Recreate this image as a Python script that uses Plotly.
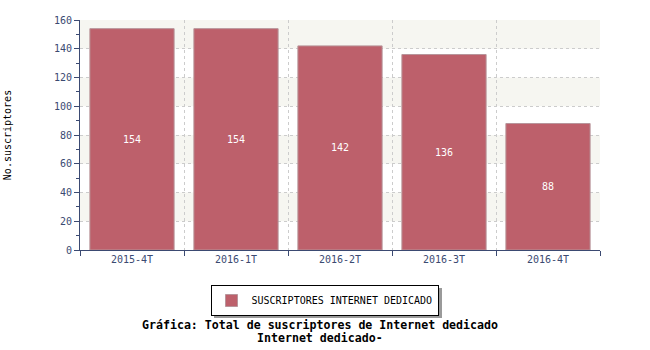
import plotly.graph_objects as go

categories = ["2015-4T", "2016-1T", "2016-2T", "2016-3T", "2016-4T"]
values = [154, 154, 142, 136, 88]
series_name = "SUSCRIPTORES INTERNET DEDICADO"
y_title = "No.suscriptores"
title_lines = ["Gráfica: Total de suscriptores de Internet dedicado", "Internet dedicado-"]

MONO = "DejaVu Sans Mono"
AXIS = "#3b4a72"

fig = go.Figure()
fig.add_trace(go.Bar(
    x=categories, y=values, name=series_name,
    marker=dict(color="#bd606b", line=dict(color="#b8959b", width=1)),
    text=[str(v) for v in values], textposition="inside", insidetextanchor="middle",
    textfont=dict(family=MONO, size=10, color="white"),
    width=0.81, showlegend=True,
))

# alternating background bands
for lo in range(20, 160, 40):
    fig.add_shape(type="rect", xref="paper", yref="y", x0=0, x1=1, y0=lo, y1=lo + 20,
                  fillcolor="#f6f6f1", line=dict(width=0), layer="below")

fig.update_layout(
    width=650, height=350,
    margin=dict(l=80, r=50, t=20, b=100, autoexpand=False),
    paper_bgcolor="white", plot_bgcolor="white",
    font=dict(family=MONO, size=10, color=AXIS),
    legend=dict(x=(324.5 - 80) / 520, xanchor="center", y=(250 - 285) / 230, yanchor="top",
                orientation="h",
                bordercolor="black", borderwidth=1, bgcolor="white",
                font=dict(family=MONO, size=10, color="black"),
                itemwidth=30, tracegroupgap=0),
    xaxis=dict(type="category", tickson="boundaries", showgrid=True, gridcolor="#cccccc",
               griddash="dot", gridwidth=1, showline=True, linecolor=AXIS, linewidth=1,
               ticks="outside", ticklen=5, tickcolor=AXIS, automargin=False,
               tickfont=dict(family=MONO, size=10, color=AXIS)),
    yaxis=dict(range=[0, 160], dtick=20, showgrid=True, gridcolor="#cccccc", griddash="dot",
               showline=True, linecolor=AXIS, linewidth=1, ticks="outside", ticklen=5,
               tickcolor=AXIS, zeroline=False, automargin=False,
               minor=dict(dtick=10, ticks="outside", ticklen=3, tickcolor=AXIS, showgrid=False),
               tickfont=dict(family=MONO, size=10, color=AXIS),
               title=dict(text=y_title, font=dict(family=MONO, size=10, color="black"), standoff=40)),
)

# legend shadow (offset down-right of the legend box)
fig.add_shape(type="rect", xref="paper", yref="paper",
              x0=(214 - 80) / 520, x1=(442 - 80) / 520,
              y0=(250 - 318) / 230, y1=(250 - 288) / 230,
              fillcolor="#9a9a9a", line=dict(width=0), layer="above")

fig.add_annotation(text="<b>" + title_lines[0] + "</b>", xref="paper", yref="paper",
                   x=(320 - 80) / 520, y=(250 - 325) / 230, showarrow=False,
                   font=dict(family=MONO, size=11.6, color="black"), yanchor="middle")
fig.add_annotation(text="<b>" + title_lines[1] + "</b>", xref="paper", yref="paper",
                   x=(320 - 80) / 520, y=(250 - 338) / 230, showarrow=False,
                   font=dict(family=MONO, size=11.6, color="black"), yanchor="middle")

fig.write_html("out.html")
